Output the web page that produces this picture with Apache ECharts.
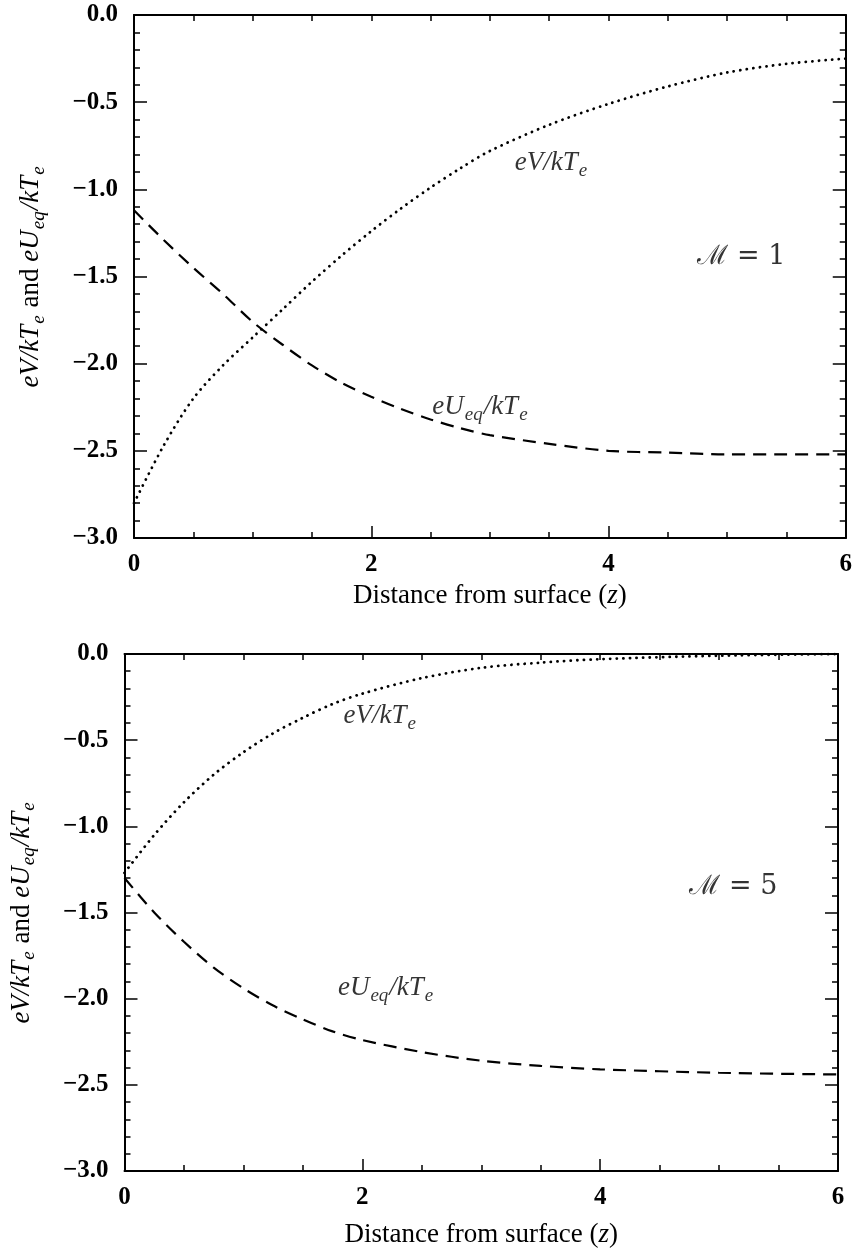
<!DOCTYPE html>
<html>
<head>
<meta charset="utf-8">
<script src="https://cdn.jsdelivr.net/npm/echarts@6/dist/echarts.min.js"></script>
<style>
html,body{margin:0;padding:0;background:#fff;}
#c{width:855px;height:1251px;}
</style>
</head>
<body>
<div id="c"></div>
<script>
// ---- data ----
const zTop = [0, 0.25, 0.5, 0.75, 1.0, 1.25, 1.5, 1.75, 2.0, 2.25, 2.5, 2.75, 3.0, 3.5, 4.0, 4.5, 5.0, 5.5, 6.0];
const vTop = [-2.80, -2.47, -2.20, -2.01, -1.85, -1.69, -1.53, -1.38, -1.24, -1.11, -0.99, -0.88, -0.78, -0.63, -0.51, -0.41, -0.33, -0.28, -0.25];
const uTop = [-1.12, -1.29, -1.45, -1.60, -1.76, -1.89, -2.01, -2.11, -2.19, -2.26, -2.32, -2.37, -2.41, -2.46, -2.50, -2.51, -2.52, -2.52, -2.52];

const zBot = [0, 0.25, 0.5, 0.75, 1.0, 1.25, 1.5, 1.75, 2.0, 2.5, 3.0, 3.5, 4.0, 5.0, 6.0];
const vBot = [-1.27, -1.05, -0.86, -0.70, -0.57, -0.46, -0.37, -0.29, -0.23, -0.14, -0.08, -0.05, -0.03, -0.01, 0.00];
const uBot = [-1.30, -1.50, -1.67, -1.82, -1.94, -2.04, -2.12, -2.19, -2.24, -2.31, -2.36, -2.39, -2.41, -2.43, -2.44];

const xTicks = [0, 2, 4, 6];
const yTicks = [0.0, -0.5, -1.0, -1.5, -2.0, -2.5, -3.0];

// annotation anchors (data coords) and texts
const annTop = [
  {pos: [3.52, -0.85], text: '{i|eV/kT}{s|e}'},
  {pos: [2.92, -2.25], text: '{i|eU}{s|eq}{i|/kT}{s|e}'},
  {pos: [5.12, -1.39], text: '{m|ℳ = 1}'}
];
const annBot = [
  {pos: [2.15, -0.36], text: '{i|eV/kT}{s|e}'},
  {pos: [2.2, -1.94], text: '{i|eU}{s|eq}{i|/kT}{s|e}'},
  {pos: [5.12, -1.35], text: '{m|ℳ = 5}'}
];
const yName = '{i|eV/kT}{s|e}{n| and }{i|eU}{s|eq}{i|/kT}{s|e}';
const xName = '{n|Distance from surface (}{i|z}{n|)}';

// ---- styles ----
const SERIF = '"Liberation Serif","DejaVu Serif",serif';
const rich = {
  i: {fontFamily: SERIF, fontStyle: 'italic', fontSize: 27, color: '#000'},
  s: {fontFamily: SERIF, fontStyle: 'italic', fontSize: 19, color: '#000', padding: [15, 1, 0, 1]},
  n: {fontFamily: SERIF, fontSize: 27, color: '#000'},
  m: {fontFamily: '"DejaVu Serif","Liberation Serif",serif', fontSize: 27, color: '#000'}
};
const richAxis = {
  i: {fontFamily: SERIF, fontStyle: 'italic', fontSize: 27, color: '#000'},
  s: {fontFamily: SERIF, fontStyle: 'italic', fontSize: 19, color: '#000', padding: [15, 1, 0, 1]},
  n: {fontFamily: SERIF, fontSize: 27, color: '#000'}
};

function fmtY(v) {
  const s = Math.abs(v).toFixed(1);
  return (v < -1e-9 ? '\u2212' : '') + s;
}

function xAxes(gi) {
  const base = {
    type: 'value', gridIndex: gi, min: 0, max: 6, interval: 2,
    splitLine: {show: false},
    axisLine: {show: true, onZero: false, lineStyle: {color: '#000', width: 2}},
    axisTick: {show: true, inside: true, length: 12, lineStyle: {color: '#000', width: 1.5}},
    minorTick: {show: true, splitNumber: 4, length: 6, lineStyle: {color: '#000', width: 1.5}}
  };
  return [
    Object.assign({}, base, {
      position: 'bottom',
      axisLabel: {show: true, margin: 14, fontFamily: SERIF, fontWeight: 'bold', fontSize: 25, color: '#000',
        formatter: v => xTicks.indexOf(v) >= 0 ? String(v) : ''},
      name: xName, nameLocation: 'middle', nameGap: gi === 0 ? 44 : 50,
      nameTextStyle: {rich: richAxis}
    }),
    Object.assign({}, base, {position: 'top', axisLabel: {show: false},
      axisTick: {show: true, inside: true, length: 6, lineStyle: {color: '#000', width: 1.5}}})
  ];
}
function yAxes(gi) {
  const base = {
    type: 'value', gridIndex: gi, min: -3, max: 0, interval: 0.5,
    splitLine: {show: false},
    axisLine: {show: true, onZero: false, lineStyle: {color: '#000', width: 2}},
    axisTick: {show: true, inside: true, length: 13, lineStyle: {color: '#000', width: 1.5}},
    minorTick: {show: true, splitNumber: 5, length: 6, lineStyle: {color: '#000', width: 1.5}}
  };
  return [
    Object.assign({}, base, {
      position: 'left',
      axisLabel: {show: true, margin: 16, fontFamily: SERIF, fontWeight: 'bold', fontSize: 25, color: '#000',
        formatter: v => yTicks.some(t => Math.abs(t - v) < 1e-9) ? fmtY(v) : ''},
      name: yName, nameLocation: 'middle', nameGap: 86, nameRotate: 90,
      nameTextStyle: {rich: richAxis}
    }),
    Object.assign({}, base, {position: 'right', axisLabel: {show: false}})
  ];
}

function pairs(zs, vs) { return zs.map((z, k) => [z, vs[k]]); }

const DOT = {color: '#000', width: 2.8, type: [0.1, 6.5], cap: 'round'};
const DASH = {color: '#000', width: 2.2, type: [13, 8]};

function lineSeries(gi, zs, vs, style) {
  return {
    type: 'line', xAxisIndex: gi * 2, yAxisIndex: gi * 2, data: pairs(zs, vs),
    smooth: 0.3, showSymbol: false, symbol: 'none', lineStyle: style, silent: true, animation: false
  };
}
function annSeries(gi, anns) {
  return {
    type: 'scatter', xAxisIndex: gi * 2, yAxisIndex: gi * 2, symbolSize: 0, silent: true, animation: false,
    data: anns.map(a => ({value: a.pos, label: {show: true, position: 'inside', formatter: a.text, rich: rich}}))
  };
}

const option = {
  backgroundColor: '#fff',
  animation: false,
  grid: [
    {left: 134, top: 15, width: 713, height: 523},
    {left: 123, top: 654, width: 715, height: 517}
  ],
  xAxis: [].concat(xAxes(0), xAxes(1)),
  yAxis: [].concat(yAxes(0), yAxes(1)),
  series: [
    lineSeries(0, zTop, vTop, DOT),
    lineSeries(0, zTop, uTop, DASH),
    annSeries(0, annTop),
    lineSeries(1, zBot, vBot, DOT),
    lineSeries(1, zBot, uBot, DASH),
    annSeries(1, annBot)
  ]
};

const chart = echarts.init(document.getElementById('c'), null, {renderer: 'canvas'});
chart.setOption(option);
</script>
</body>
</html>
